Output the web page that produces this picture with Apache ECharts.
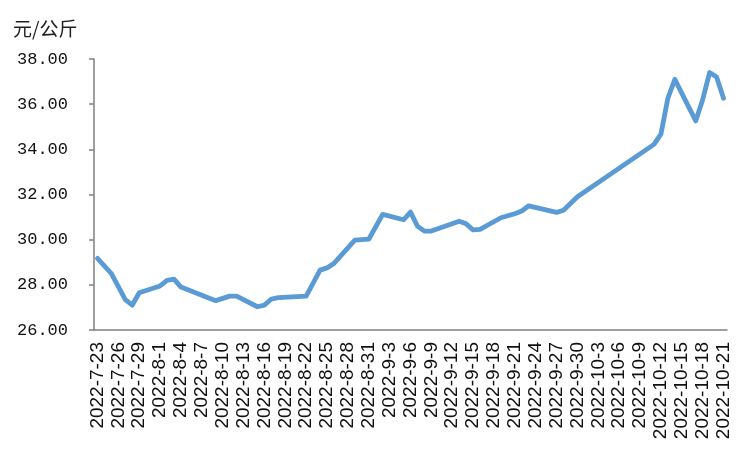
<!DOCTYPE html>
<html><head><meta charset="utf-8">
<script src="https://cdn.jsdelivr.net/npm/echarts@6/dist/echarts.min.js"></script>
<style>html,body{margin:0;padding:0;background:#fff}#c{width:750px;height:450px}</style>
</head><body><div id="c"></div>
<script>
// daily dates 2022-7-23 .. 2022-10-21
const dates = [];
(function(){
  const months = [[7,23,31],[8,1,31],[9,1,30],[10,1,21]];
  for (const [m,s,e] of months) for (let d=s; d<=e; d++) dates.push('2022-'+m+'-'+d);
})();
// observed vertices [date, price]
const pointDates = ['2022-7-23','2022-7-25','2022-7-27','2022-7-28','2022-7-29','2022-8-1','2022-8-2','2022-8-3','2022-8-4','2022-8-9','2022-8-11','2022-8-12','2022-8-15','2022-8-16','2022-8-17','2022-8-18','2022-8-22','2022-8-24','2022-8-25','2022-8-26','2022-8-29','2022-8-31','2022-9-2','2022-9-5','2022-9-6','2022-9-7','2022-9-8','2022-9-9','2022-9-13','2022-9-14','2022-9-15','2022-9-16','2022-9-19','2022-9-21','2022-9-22','2022-9-23','2022-9-27','2022-9-28','2022-9-30','2022-10-11','2022-10-12','2022-10-13','2022-10-14','2022-10-17','2022-10-18','2022-10-19','2022-10-20','2022-10-21'];
const pointValues = [29.17,28.5,27.35,27.1,27.65,27.95,28.2,28.25,27.9,27.3,27.5,27.5,27.03,27.1,27.37,27.43,27.5,28.65,28.75,28.95,29.98,30.02,31.12,30.88,31.22,30.6,30.38,30.38,30.82,30.7,30.43,30.46,30.97,31.15,31.27,31.5,31.21,31.3,31.9,34.22,34.67,36.26,37.1,35.26,36.2,37.4,37.2,36.26];
const yTicks = ['26.00','28.00','30.00','32.00','34.00','36.00','38.00'];
const unitLabel = '元/公斤';

const series = dates.map(d => { const i = pointDates.indexOf(d); return i>=0 ? pointValues[i] : null; });

const chart = echarts.init(document.getElementById('c'));
chart.setOption({
  animation:false,
  grid:{left:94,right:23,top:59,bottom:120},
  title:{text:unitLabel,left:13,top:19,padding:0,textStyle:{fontFamily:'Noto Sans CJK SC',fontSize:19,fontWeight:'normal',color:'#222'}},
  xAxis:{type:'category',data:dates,boundaryGap:true,
    axisLine:{lineStyle:{color:'#808080',width:1.5}},
    axisTick:{interval:2,length:5,lineStyle:{color:'#808080',width:1.5}},
    axisLabel:{interval:2,rotate:90,margin:12,fontFamily:'Liberation Sans',fontSize:19,color:'#111'}},
  yAxis:{type:'value',min:26,max:38,interval:2,
    axisLine:{show:true,lineStyle:{color:'#808080',width:1.5}},
    axisTick:{show:true,length:5,lineStyle:{color:'#808080',width:1.5}},
    splitLine:{show:false},
    axisLabel:{margin:26,fontFamily:'Liberation Mono',fontSize:17,color:'#111',
      formatter:v=>yTicks[Math.round((v-26)/2)]}},
  series:[{type:'line',data:series,connectNulls:true,symbol:'none',
    lineStyle:{color:'#5B9BD5',width:4.8,join:'round',cap:'round'}}]
});
</script></body></html>
